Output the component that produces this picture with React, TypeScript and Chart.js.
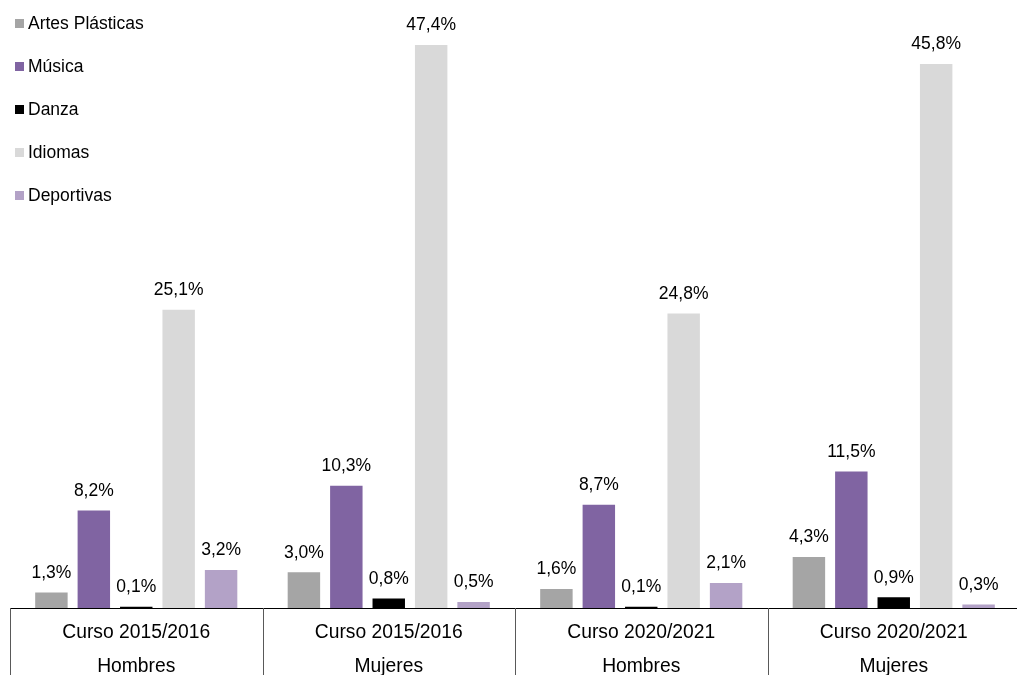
import React, { useEffect, useRef } from "react";
import { Chart, registerables } from "chart.js";

Chart.register(...registerables);

const categories: string[][] = [
  ["Curso 2015/2016", "Hombres"],
  ["Curso 2015/2016", "Mujeres"],
  ["Curso 2020/2021", "Hombres"],
  ["Curso 2020/2021", "Mujeres"],
];
const seriesNames = ["Artes Plásticas", "Música", "Danza", "Idiomas", "Deportivas"];
const artesPlasticas = [1.3, 3.0, 1.6, 4.3];
const musica = [8.2, 10.3, 8.7, 11.5];
const danza = [0.1, 0.8, 0.1, 0.9];
const idiomas = [25.1, 47.4, 24.8, 45.8];
const deportivas = [3.2, 0.5, 2.1, 0.3];
const seriesColors = ["#A5A5A5", "#8064A2", "#000000", "#D9D9D9", "#B3A2C7"];

const FONT = "'Liberation Sans', Arial, sans-serif";
const CANVAS_W = 1022;
const CANVAS_H = 690;

const fmt = (v: number) => v.toFixed(1).replace(".", ",") + "%";

const dataLabelsPlugin = {
  id: "dataLabels",
  afterDatasetsDraw(chart: any) {
    const ctx = chart.ctx;
    ctx.save();
    ctx.font = `17.5px ${FONT}`;
    ctx.fillStyle = "#000000";
    ctx.textAlign = "center";
    ctx.textBaseline = "middle";
    chart.data.datasets.forEach((ds: any, i: number) => {
      const meta = chart.getDatasetMeta(i);
      meta.data.forEach((el: any, j: number) => {
        ctx.fillText(fmt(ds.data[j]), el.x, el.y - 19.5);
      });
    });
    ctx.restore();
  },
};

const separatorsPlugin = {
  id: "separators",
  afterDraw(chart: any) {
    const ctx = chart.ctx;
    const xs = chart.scales.x;
    const n = chart.data.labels.length;
    const step = xs.getPixelForValue(1) - xs.getPixelForValue(0);
    ctx.save();
    ctx.strokeStyle = "#595959";
    ctx.lineWidth = 1;
    for (let i = 0; i <= n; i++) {
      const x = Math.round(xs.getPixelForValue(0) - step / 2 + i * step) + 0.5;
      ctx.beginPath();
      ctx.moveTo(x, chart.chartArea.bottom);
      ctx.lineTo(x, chart.height);
      ctx.stroke();
    }
    ctx.restore();
  },
};

const legendPlugin = {
  id: "customLegend",
  afterDraw(chart: any) {
    const ctx = chart.ctx;
    ctx.save();
    ctx.font = `17.5px ${FONT}`;
    ctx.textAlign = "left";
    ctx.textBaseline = "middle";
    chart.data.datasets.forEach((ds: any, i: number) => {
      const cy = 23.5 + i * 43;
      ctx.fillStyle = ds.backgroundColor;
      ctx.fillRect(15, Math.round(cy - 4.5), 9, 9);
      ctx.fillStyle = "#000000";
      ctx.fillText(ds.label, 28, cy + 1);
    });
    ctx.restore();
  },
};

export default function App() {
  const ref = useRef<HTMLCanvasElement | null>(null);
  useEffect(() => {
    if (!ref.current) return;
    const values = [artesPlasticas, musica, danza, idiomas, deportivas];
    const chart = new Chart(ref.current, {
      type: "bar",
      data: {
        labels: categories,
        datasets: seriesNames.map((name, i) => ({
          label: name,
          data: values[i],
          backgroundColor: seriesColors[i],
          borderWidth: 0,
          categoryPercentage: 0.84,
          barPercentage: 0.765,
        })),
      },
      options: {
        responsive: false,
        maintainAspectRatio: false,
        animation: false,
        devicePixelRatio: 1,
        layout: { padding: { left: 10, right: 2, top: 14, bottom: 0 } },
        plugins: {
          legend: { display: false },
          tooltip: { enabled: false },
          title: { display: false },
        },
        scales: {
          x: {
            grid: { display: false, drawTicks: false },
            border: { display: true, color: "#000000", width: 1 },
            ticks: {
              color: "#000000",
              font: { family: FONT, size: 19.3, lineHeight: 34 / 19.3 },
              padding: 7.5,
              maxRotation: 0,
              autoSkip: false,
            },
            afterFit: (scale: any) => {
              scale.height = CANVAS_H - 608;
            },
          },
          y: {
            display: false,
            min: 0,
            max: 50,
          },
        },
      },
      plugins: [dataLabelsPlugin, separatorsPlugin, legendPlugin],
    });
    return () => chart.destroy();
  }, []);

  return (
    <div
      style={{
        position: "fixed",
        left: 0,
        top: 0,
        width: 1017,
        height: 675,
        overflow: "hidden",
        background: "#ffffff",
      }}
    >
      <canvas
        ref={ref}
        width={CANVAS_W}
        height={CANVAS_H}
        style={{ display: "block", width: CANVAS_W, height: CANVAS_H }}
      />
    </div>
  );
}
